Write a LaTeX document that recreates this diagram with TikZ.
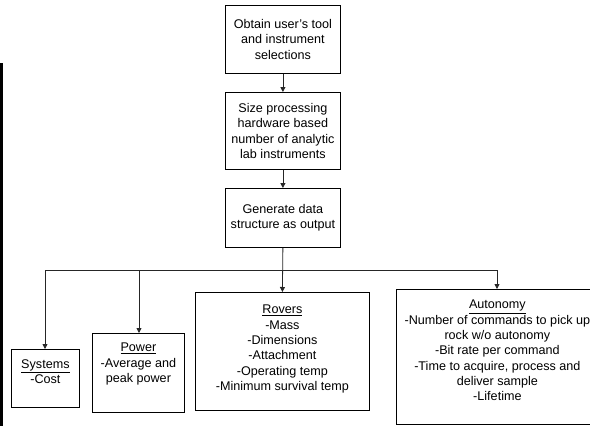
\documentclass[tikz,border=0pt]{standalone}
\usepackage{fontspec}
\setmainfont{Liberation Sans}
\usetikzlibrary{arrows.meta}
\begin{document}
\begin{tikzpicture}[x=1pt,y=-1pt,
  box/.style={draw=black,line width=0.8pt,rectangle,inner sep=0pt,anchor=north west},
  txt/.style={align=center,inner sep=0pt,font=\fontsize{12.6}{15.3}\selectfont},
  arr/.style={draw=black!85,line width=0.8pt,-{Triangle[length=5pt,width=5pt]}},
  ln/.style={draw=black!85,line width=0.8pt}]
\useasboundingbox (0,0) rectangle (590,426);
\fill[black] (0,63) rectangle (3,426);
% top chain
\node[box,minimum width=115pt,minimum height=68pt] (b1) at (225,5) {};
\node[txt] (t1) at (b1.center) {Obtain user's tool\\and instrument\\selections};
\node[box,minimum width=115pt,minimum height=77pt] (b2) at (225,92) {};
\node[txt] (t2) at (b2.center) {Size processing\\hardware based\\number of analytic\\lab instruments};
\node[box,minimum width=115pt,minimum height=59pt] (b3) at (225,188) {};
\node[txt] (t3) at (b3.center) {Generate data\\structure as output};
% bottom boxes
\node[box,minimum width=68pt,minimum height=58pt] (sys) at (11,349) {};
\node[txt,anchor=north] (tsys) at ([yshift=-10pt]sys.north) {\underline{Systems}\\-Cost};
\node[box,minimum width=92pt,minimum height=79pt] (pow) at (92,333) {};
\node[txt,anchor=north] (tpow) at ([yshift=-10pt]pow.north) {\underline{Power}\\-Average and\\peak power};
\node[box,minimum width=174pt,minimum height=118pt] (rov) at (195,292) {};
\node[txt,anchor=north] (trov) at ([yshift=-13pt]rov.north) {\underline{Rovers}\\-Mass\\-Dimensions\\-Attachment\\-Operating temp\\-Minimum survival temp};
\node[box,minimum width=202pt,minimum height=135pt] (aut) at (396,289) {};
\node[txt,anchor=north] (taut) at ([yshift=-11pt]aut.north) {\underline{Autonomy}\\-Number of commands to pick up\\rock w/o autonomy\\-Bit rate per command\\-Time to acquire, process and\\deliver sample\\-Lifetime};
% connectors
\draw[arr] (b1) -- (b2);
\draw[arr] (b2) -- (b3);
\coordinate (j0) at (282,270);
\coordinate (j1) at (45,270);
\coordinate (j2) at (139,270);
\coordinate (j4) at (497,270);
\draw[arr] (b3.south) -- (rov.north);
\draw[ln] (j1) -- (j4);
\draw[arr] (j1) -- (j1 |- sys.north);
\draw[arr] (j2) -- (j2 |- pow.north);
\draw[arr] (j4) -- (j4 |- aut.north);
\end{tikzpicture}
\end{document}
